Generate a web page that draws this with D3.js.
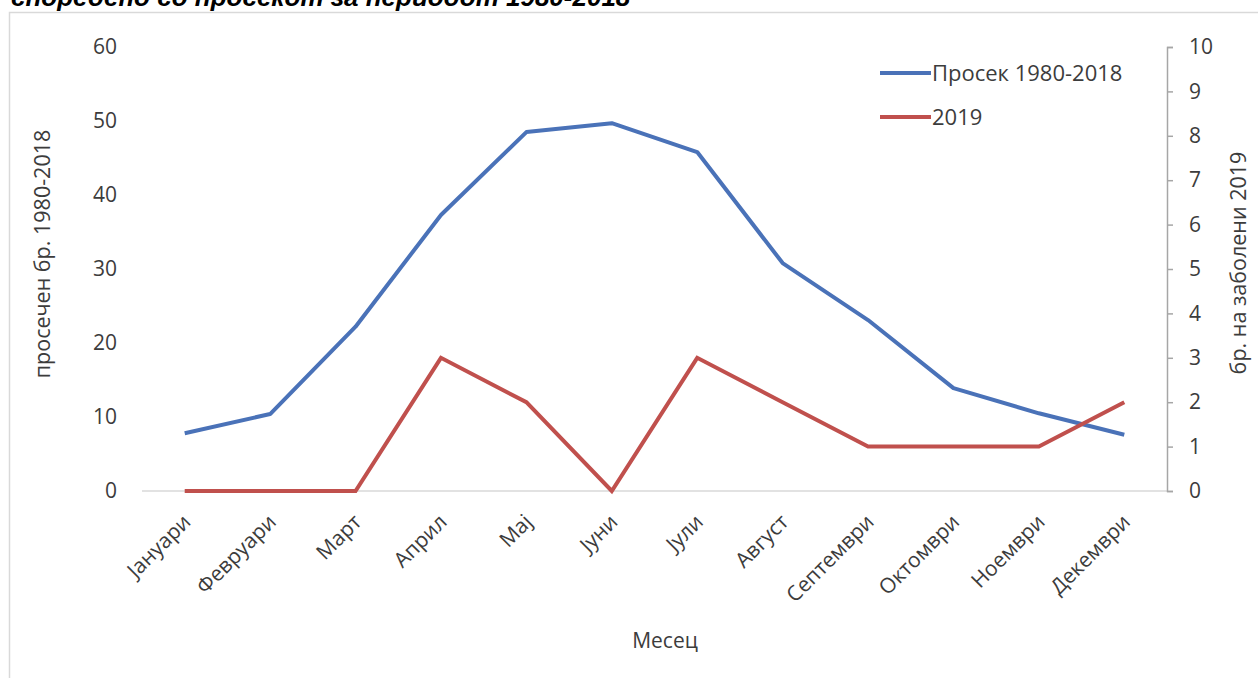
<!DOCTYPE html>
<html><head><meta charset="utf-8">
<script src="https://cdn.jsdelivr.net/npm/d3@7"></script>
<style>
html,body{margin:0;padding:0;background:#fff;overflow:hidden}
text{font-family:"Open Sans",sans-serif;fill:#3c3c3c}
</style></head>
<body>
<svg id="c" width="1258" height="678"></svg>
<script>
const months = ["Јануари","Февруари","Март","Април","Мај","Јуни","Јули","Август","Септември","Октомври","Ноември","Декември"];
const avg19802018 = [7.8, 10.4, 22.2, 37.3, 48.5, 49.7, 45.8, 30.8, 23.1, 13.9, 10.5, 7.6];
const cases2019 = [0, 0, 0, 3, 2, 0, 3, 2, 1, 1, 1, 2];
const leftTicks = [0,10,20,30,40,50,60];
const rightTicks = [0,1,2,3,4,5,6,7,8,9,10];
const seriesNames = ["Просек 1980-2018","2019"];
const titleText = "споредено со просекот за периодот 1980-2018";

const svg = d3.select("#c");
const blue = "#4a72b8", red = "#c0504d";

// frame
svg.append("rect").attr("x",9.5).attr("y",12.5).attr("width",1270).attr("height",700)
  .attr("fill","none").attr("stroke","#d9d9d9").attr("stroke-width",1.5);

// cut-off title (cropped in the original image)
svg.append("text").attr("x",11).attr("y",6)
  .style("font-family","'Liberation Sans',Arial,sans-serif").style("font-weight","bold")
  .style("font-style","italic").style("font-size","26px").style("fill","#000")
  .text(titleText);

const x0 = 142, x1 = 1167, yTop = 47, yBot = 491;
const x = d3.scaleBand().domain(months).range([x0,x1]);
const yL = d3.scaleLinear().domain([0,60]).range([yBot,yTop]);
const yR = d3.scaleLinear().domain([0,10]).range([yBot,yTop]);
const cx = m => x(m) + x.bandwidth()/2;

// zero baseline
svg.append("line").attr("x1",x0).attr("x2",x1).attr("y1",yBot).attr("y2",yBot)
  .attr("stroke","#d9d9d9").attr("stroke-width",1.5);

// left axis (labels only)
const gL = svg.append("g").attr("transform",`translate(${x0},0)`)
  .call(d3.axisLeft(yL).tickValues(leftTicks).tickSize(0).tickPadding(25));
gL.select(".domain").remove();
gL.selectAll("text").style("font-size","21px").style("fill","#3c3c3c");

// right axis
const gR = svg.append("g").attr("transform",`translate(${x1},0)`)
  .call(d3.axisRight(yR).tickValues(rightTicks).tickSize(6).tickSizeOuter(6).tickPadding(16));
gR.select(".domain").attr("stroke","#a6a6a6").attr("stroke-width",1.5);
gR.selectAll(".tick line").attr("stroke","#a6a6a6").attr("stroke-width",1.5);
gR.selectAll("text").style("font-size","21px").style("fill","#3c3c3c");

// x labels rotated
const gX = svg.append("g");
months.forEach(m=>{
  gX.append("text").attr("transform",`translate(${cx(m)+2},${yBot+27}) rotate(-45)`)
    .attr("text-anchor","end").attr("dy","0.35em").style("font-size","21px").text(m);
});

// axis titles
svg.append("text").attr("transform",`translate(50,254) rotate(-90)`)
  .attr("text-anchor","middle").style("font-size","21.5px").text("просечен бр. 1980-2018");
svg.append("text").attr("transform",`translate(1246,263) rotate(-90)`)
  .attr("text-anchor","middle").style("font-size","21.5px").text("бр. на заболени 2019");
svg.append("text").attr("x",665).attr("y",648).attr("text-anchor","middle")
  .style("font-size","21px").text("Месец");

// lines
const lineL = d3.line().x((d,i)=>cx(months[i])).y(d=>yL(d));
const lineR = d3.line().x((d,i)=>cx(months[i])).y(d=>yR(d));
svg.append("path").datum(avg19802018).attr("d",lineL).attr("fill","none")
  .attr("stroke",blue).attr("stroke-width",4).attr("stroke-linejoin","round");
svg.append("path").datum(cases2019).attr("d",lineR).attr("fill","none")
  .attr("stroke",red).attr("stroke-width",4).attr("stroke-linejoin","miter");

// legend
const lg = [{n:seriesNames[0],c:blue,y:73},{n:seriesNames[1],c:red,y:117}];
lg.forEach(d=>{
  svg.append("line").attr("x1",880).attr("x2",931).attr("y1",d.y).attr("y2",d.y)
    .attr("stroke",d.c).attr("stroke-width",4);
  svg.append("text").attr("x",932).attr("y",d.y).attr("dy","0.35em")
    .style("font-size","22px").text(d.n);
});
</script>
</body></html>
